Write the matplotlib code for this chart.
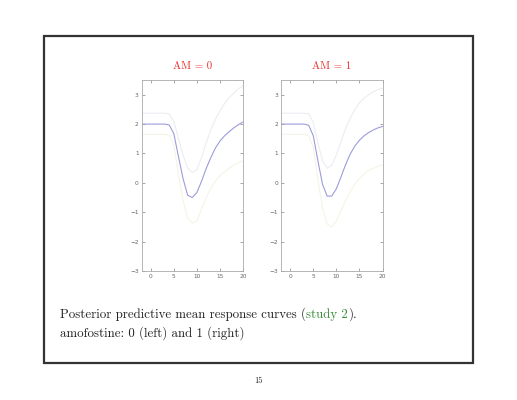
import matplotlib
matplotlib.use("Agg")
import matplotlib.pyplot as plt

x = list(range(-2, 21))

mean_am0 = [2.0, 2.0, 2.0, 2.0, 2.0, 2.0, 1.97, 1.68, 0.9, 0.15, -0.42, -0.5, -0.33,
            0.05, 0.48, 0.85, 1.18, 1.42, 1.6, 1.74, 1.87, 1.98, 2.07]
upper_am0 = [2.37, 2.37, 2.37, 2.37, 2.37, 2.37, 2.35, 2.1, 1.5, 0.95, 0.5, 0.35, 0.45,
             0.85, 1.35, 1.8, 2.15, 2.45, 2.7, 2.9, 3.05, 3.2, 3.3]
lower_am0 = [1.65, 1.65, 1.65, 1.65, 1.65, 1.65, 1.62, 1.3, 0.3, -0.6, -1.2, -1.37, -1.3,
             -0.9, -0.5, -0.2, 0.05, 0.25, 0.38, 0.5, 0.6, 0.68, 0.75]

mean_am1 = [2.0, 2.0, 2.0, 2.0, 2.0, 2.0, 1.96, 1.6, 0.75, -0.05, -0.45, -0.45, -0.2,
            0.2, 0.62, 0.98, 1.25, 1.45, 1.6, 1.71, 1.8, 1.87, 1.92]
upper_am1 = [2.37, 2.37, 2.37, 2.37, 2.37, 2.37, 2.35, 2.05, 1.35, 0.75, 0.5, 0.6, 0.95,
             1.4, 1.85, 2.2, 2.5, 2.72, 2.88, 3.0, 3.1, 3.17, 3.22]
lower_am1 = [1.65, 1.65, 1.65, 1.65, 1.65, 1.65, 1.6, 1.2, 0.1, -0.85, -1.4, -1.5, -1.3,
             -0.95, -0.6, -0.3, -0.05, 0.15, 0.3, 0.42, 0.5, 0.56, 0.6]

titles = ["AM = 0", "AM = 1"]
xticks = [0, 5, 10, 15, 20]
yticks = [-3, -2, -1, 0, 1, 2, 3]

W, H = 517, 400
fig = plt.figure(figsize=(W / 100, H / 100), dpi=100)
fig.patch.set_facecolor("white")

# slide frame
frame = plt.Rectangle((44 / W, 1 - 363 / H), (473 - 44) / W, (363 - 36) / H,
                      transform=fig.transFigure, fill=False, edgecolor="#333333",
                      linewidth=1.6)
fig.add_artist(frame)

panels = [
    (141.5, mean_am0, upper_am0, lower_am0, titles[0]),
    (281.0, mean_am1, upper_am1, lower_am1, titles[1]),
]
for left, m, u, l, t in panels:
    ax = fig.add_axes([left / W, 1 - 271 / H, 101.5 / W, 191 / H])
    ax.plot(x, u, color="#ececf2", linewidth=0.8)
    ax.plot(x, l, color="#f4f4e6", linewidth=0.8)
    ax.plot(x, m, color="#9c9cdc", linewidth=0.8)
    ax.set_xlim(-2, 20)
    ax.set_ylim(-3, 3.5)
    ax.set_xticks(xticks)
    ax.set_yticks(yticks)
    ax.tick_params(direction="in", length=2, width=0.4, labelsize=4.2,
                   colors="#666666", pad=2, top=True, right=True)
    for s in ax.spines.values():
        s.set_color("#aaaaaa")
        s.set_linewidth(0.6)
    ax.text(0.5, 1.07, t, transform=ax.transAxes, ha="center", va="center",
            color="#e8302a", fontsize=7.8, family="cmr10")

# caption with green reference
fs = 9.3
fig.canvas.draw()
r = fig.canvas.get_renderer()
parts = [("Posterior predictive mean response curves (", "#222222"),
         ("study 2", "#3a8a3a"),
         (").", "#222222")]
xpos = 60 / W
ybase = 1 - 318 / H
for s, c in parts:
    tx = fig.text(xpos, ybase, s, color=c, fontsize=fs, family="cmr10",
                  ha="left", va="baseline")
    bb = tx.get_window_extent(renderer=r)
    xpos += bb.width / W
fig.text(60 / W, 1 - 337 / H, "amofostine: 0 (left) and 1 (right)", color="#222222",
         fontsize=fs, family="cmr10", ha="left", va="baseline")

fig.text(258 / W, 1 - 383 / H, "15", color="#222222", fontsize=6, family="cmr10",
         ha="center", va="baseline")

fig.savefig("out.png", dpi=100)
